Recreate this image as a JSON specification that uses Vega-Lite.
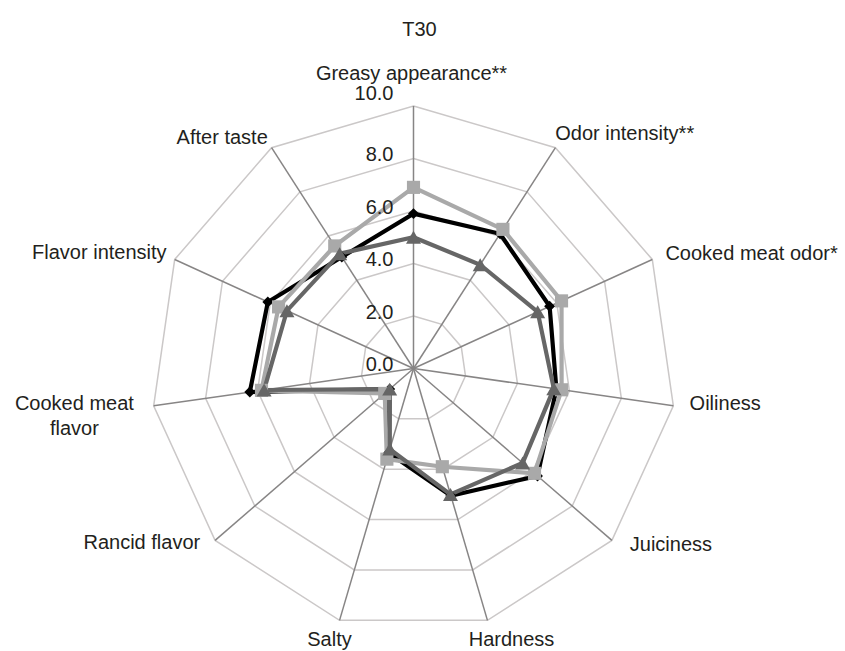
{
  "$schema": "https://vega.github.io/schema/vega-lite/v6.json",
  "width": 845,
  "height": 601,
  "autosize": {"type": "none"},
  "padding": {"left": 0, "right": 0, "top": 50, "bottom": 0},
  "background": "white",
  "config": {"view": {"stroke": null}, "font": "Liberation Sans"},
  "title": {"text": "T30", "anchor": "middle", "frame": "group", "fontSize": 20, "fontWeight": "normal", "color": "#231f20", "baseline": "middle", "offset": 0, "dx": -3},
  "datasets": {
    "axes": [
      {"idx": 0, "attribute": "Greasy appearance**", "label": "Greasy appearance**"},
      {"idx": 1, "attribute": "Odor intensity**", "label": "Odor intensity**"},
      {"idx": 2, "attribute": "Cooked meat odor*", "label": "Cooked meat odor*"},
      {"idx": 3, "attribute": "Oiliness", "label": "Oiliness"},
      {"idx": 4, "attribute": "Juiciness", "label": "Juiciness"},
      {"idx": 5, "attribute": "Hardness", "label": "Hardness"},
      {"idx": 6, "attribute": "Salty", "label": "Salty"},
      {"idx": 7, "attribute": "Rancid flavor", "label": "Rancid flavor"},
      {"idx": 8, "attribute": "Cooked meat flavor", "label": ["Cooked meat", "flavor"]},
      {"idx": 9, "attribute": "Flavor intensity", "label": "Flavor intensity"},
      {"idx": 10, "attribute": "After taste", "label": "After taste"}
    ],
    "grid": [
      {"level": 2, "idx": 0}, {"level": 2, "idx": 1}, {"level": 2, "idx": 2}, {"level": 2, "idx": 3}, {"level": 2, "idx": 4}, {"level": 2, "idx": 5}, {"level": 2, "idx": 6}, {"level": 2, "idx": 7}, {"level": 2, "idx": 8}, {"level": 2, "idx": 9}, {"level": 2, "idx": 10},
      {"level": 4, "idx": 0}, {"level": 4, "idx": 1}, {"level": 4, "idx": 2}, {"level": 4, "idx": 3}, {"level": 4, "idx": 4}, {"level": 4, "idx": 5}, {"level": 4, "idx": 6}, {"level": 4, "idx": 7}, {"level": 4, "idx": 8}, {"level": 4, "idx": 9}, {"level": 4, "idx": 10},
      {"level": 6, "idx": 0}, {"level": 6, "idx": 1}, {"level": 6, "idx": 2}, {"level": 6, "idx": 3}, {"level": 6, "idx": 4}, {"level": 6, "idx": 5}, {"level": 6, "idx": 6}, {"level": 6, "idx": 7}, {"level": 6, "idx": 8}, {"level": 6, "idx": 9}, {"level": 6, "idx": 10},
      {"level": 8, "idx": 0}, {"level": 8, "idx": 1}, {"level": 8, "idx": 2}, {"level": 8, "idx": 3}, {"level": 8, "idx": 4}, {"level": 8, "idx": 5}, {"level": 8, "idx": 6}, {"level": 8, "idx": 7}, {"level": 8, "idx": 8}, {"level": 8, "idx": 9}, {"level": 8, "idx": 10},
      {"level": 10, "idx": 0}, {"level": 10, "idx": 1}, {"level": 10, "idx": 2}, {"level": 10, "idx": 3}, {"level": 10, "idx": 4}, {"level": 10, "idx": 5}, {"level": 10, "idx": 6}, {"level": 10, "idx": 7}, {"level": 10, "idx": 8}, {"level": 10, "idx": 9}, {"level": 10, "idx": 10}
    ],
    "ticks": [{"v": 0}, {"v": 2}, {"v": 4}, {"v": 6}, {"v": 8}, {"v": 10}],
    "scores": [
      {"treatment": "A", "idx": 0, "attribute": "Greasy appearance**", "score": 5.9},
      {"treatment": "A", "idx": 1, "attribute": "Odor intensity**", "score": 6.1},
      {"treatment": "A", "idx": 2, "attribute": "Cooked meat odor*", "score": 5.7},
      {"treatment": "A", "idx": 3, "attribute": "Oiliness", "score": 5.5},
      {"treatment": "A", "idx": 4, "attribute": "Juiciness", "score": 6.25},
      {"treatment": "A", "idx": 5, "attribute": "Hardness", "score": 5.05},
      {"treatment": "A", "idx": 6, "attribute": "Salty", "score": 3.35},
      {"treatment": "A", "idx": 7, "attribute": "Rancid flavor", "score": 1.2},
      {"treatment": "A", "idx": 8, "attribute": "Cooked meat flavor", "score": 6.3},
      {"treatment": "A", "idx": 9, "attribute": "Flavor intensity", "score": 6.1},
      {"treatment": "A", "idx": 10, "attribute": "After taste", "score": 5.05},
      {"treatment": "B", "idx": 0, "attribute": "Greasy appearance**", "score": 6.9},
      {"treatment": "B", "idx": 1, "attribute": "Odor intensity**", "score": 6.3},
      {"treatment": "B", "idx": 2, "attribute": "Cooked meat odor*", "score": 6.2},
      {"treatment": "B", "idx": 3, "attribute": "Oiliness", "score": 5.7},
      {"treatment": "B", "idx": 4, "attribute": "Juiciness", "score": 6.1},
      {"treatment": "B", "idx": 5, "attribute": "Hardness", "score": 3.9},
      {"treatment": "B", "idx": 6, "attribute": "Salty", "score": 3.6},
      {"treatment": "B", "idx": 7, "attribute": "Rancid flavor", "score": 1.45},
      {"treatment": "B", "idx": 8, "attribute": "Cooked meat flavor", "score": 5.85},
      {"treatment": "B", "idx": 9, "attribute": "Flavor intensity", "score": 5.65},
      {"treatment": "B", "idx": 10, "attribute": "After taste", "score": 5.55},
      {"treatment": "C", "idx": 0, "attribute": "Greasy appearance**", "score": 5.0},
      {"treatment": "C", "idx": 1, "attribute": "Odor intensity**", "score": 4.7},
      {"treatment": "C", "idx": 2, "attribute": "Cooked meat odor*", "score": 5.2},
      {"treatment": "C", "idx": 3, "attribute": "Oiliness", "score": 5.4},
      {"treatment": "C", "idx": 4, "attribute": "Juiciness", "score": 5.5},
      {"treatment": "C", "idx": 5, "attribute": "Hardness", "score": 5.0},
      {"treatment": "C", "idx": 6, "attribute": "Salty", "score": 3.2},
      {"treatment": "C", "idx": 7, "attribute": "Rancid flavor", "score": 1.2},
      {"treatment": "C", "idx": 8, "attribute": "Cooked meat flavor", "score": 5.75},
      {"treatment": "C", "idx": 9, "attribute": "Flavor intensity", "score": 5.3},
      {"treatment": "C", "idx": 10, "attribute": "After taste", "score": 5.2}
    ]
  },
  "layer": [
    {
      "data": {"name": "grid"},
      "transform": [
        {"calculate": "2 * PI * datum.idx / 11", "as": "a"},
        {"calculate": "datum.level * sin(datum.a)", "as": "px"},
        {"calculate": "datum.level * cos(datum.a)", "as": "py"}
      ],
      "mark": {"type": "line", "interpolate": "linear-closed", "color": "#cbc8c8", "strokeWidth": 1.5},
      "encoding": {
        "x": {"field": "px", "type": "quantitative", "scale": {"domain": [-15.752, 16.438], "nice": false, "zero": false}, "axis": null},
        "y": {"field": "py", "type": "quantitative", "scale": {"domain": [-10.762, 12.133], "nice": false, "zero": false}, "axis": null},
        "detail": {"field": "level", "type": "nominal"},
        "order": {"field": "idx", "type": "quantitative"}
      }
    },
    {
      "data": {"name": "axes"},
      "transform": [
        {"calculate": "2 * PI * datum.idx / 11", "as": "a"},
        {"calculate": "10 * sin(datum.a)", "as": "px"},
        {"calculate": "10 * cos(datum.a)", "as": "py"},
        {"calculate": "0", "as": "ox"},
        {"calculate": "0", "as": "oy"}
      ],
      "mark": {"type": "rule", "color": "#878585", "strokeWidth": 1.5},
      "encoding": {
        "x": {"field": "px", "type": "quantitative", "scale": {"domain": [-15.752, 16.438], "nice": false, "zero": false}, "axis": null},
        "y": {"field": "py", "type": "quantitative", "scale": {"domain": [-10.762, 12.133], "nice": false, "zero": false}, "axis": null},
        "x2": {"field": "ox"},
        "y2": {"field": "oy"}
      }
    },
    {
      "data": {"name": "scores"},
      "transform": [
        {"calculate": "2 * PI * datum.idx / 11", "as": "a"},
        {"calculate": "datum.score * sin(datum.a)", "as": "px"},
        {"calculate": "datum.score * cos(datum.a)", "as": "py"}
      ],
      "layer": [
        {
          "mark": {"type": "line", "interpolate": "linear-closed", "strokeWidth": 4.2},
          "encoding": {
            "x": {"field": "px", "type": "quantitative", "scale": {"domain": [-15.752, 16.438], "nice": false, "zero": false}, "axis": null},
            "y": {"field": "py", "type": "quantitative", "scale": {"domain": [-10.762, 12.133], "nice": false, "zero": false}, "axis": null},
            "color": {"field": "treatment", "type": "nominal", "scale": {"domain": ["A", "B", "C"], "range": ["#000000", "#a9a9a9", "#666666"]}, "legend": null},
            "order": {"field": "idx", "type": "quantitative"}
          }
        },
        {
          "mark": {"type": "point", "filled": true, "opacity": 1},
          "encoding": {
            "x": {"field": "px", "type": "quantitative", "scale": {"domain": [-15.752, 16.438], "nice": false, "zero": false}, "axis": null},
            "y": {"field": "py", "type": "quantitative", "scale": {"domain": [-10.762, 12.133], "nice": false, "zero": false}, "axis": null},
            "color": {"field": "treatment", "type": "nominal", "scale": {"domain": ["A", "B", "C"], "range": ["#000000", "#a9a9a9", "#666666"]}, "legend": null},
            "shape": {"field": "treatment", "type": "nominal", "scale": {"domain": ["A", "B", "C"], "range": ["diamond", "square", "triangle-up"]}, "legend": null},
            "size": {"field": "treatment", "type": "nominal", "scale": {"domain": ["A", "B", "C"], "range": [120, 225, 180]}, "legend": null}
          }
        }
      ]
    },
    {
      "data": {"name": "ticks"},
      "transform": [{"calculate": "0", "as": "ox"}],
      "mark": {"type": "text", "align": "right", "baseline": "middle", "dx": -20, "dy": {"expr": "datum.v == 10 ? -12 : -3"}, "fontSize": 20, "color": "#231f20"},
      "encoding": {
        "x": {"field": "ox", "type": "quantitative", "scale": {"domain": [-15.752, 16.438], "nice": false, "zero": false}, "axis": null},
        "y": {"field": "v", "type": "quantitative", "scale": {"domain": [-10.762, 12.133], "nice": false, "zero": false}, "axis": null},
        "text": {"field": "v", "type": "quantitative", "format": ".1f"}
      }
    },
    {
      "data": {"name": "axes"},
      "transform": [
        {"calculate": "2 * PI * datum.idx / 11", "as": "a"},
        {"calculate": "10.55 * sin(datum.a)", "as": "px"},
        {"calculate": "10.55 * cos(datum.a)", "as": "py"}
      ],
      "mark": {
        "type": "text",
        "fontSize": 20,
        "color": "#231f20",
        "baseline": "middle",
        "lineHeight": 25,
        "align": {"expr": "datum.idx == 8 ? 'center' : (abs(sin(datum.a)) < 0.35 ? 'center' : (sin(datum.a) > 0 ? 'left' : 'right'))"},
        "dx": {"expr": "[-2, -8, 0, 2, 7, 20, -6, -4, -65, 5, 4][datum.idx]"},
        "dy": {"expr": "[-18, -2, 1, -4, -5, 6, 6, -7, -4, 0, 2][datum.idx]"}
      },
      "encoding": {
        "x": {"field": "px", "type": "quantitative", "scale": {"domain": [-15.752, 16.438], "nice": false, "zero": false}, "axis": null},
        "y": {"field": "py", "type": "quantitative", "scale": {"domain": [-10.762, 12.133], "nice": false, "zero": false}, "axis": null},
        "text": {"field": "label", "type": "nominal"}
      }
    }
  ]
}
